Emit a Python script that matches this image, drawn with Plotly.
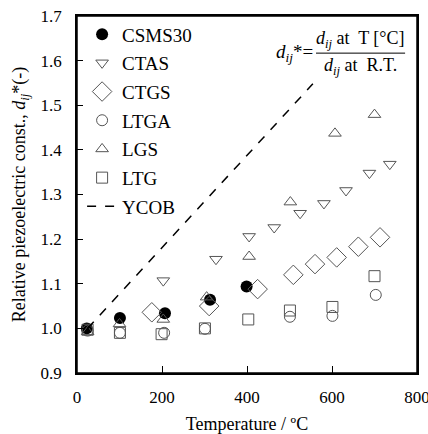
import plotly.graph_objects as go

# Data (temperature in °C, relative piezoelectric constant)
csms30_t = [23, 101, 207, 313, 399]
csms30_d = [1.000, 1.023, 1.034, 1.064, 1.094]

ctas_t = [203, 327, 405, 464, 525, 581, 633, 688, 736]
ctas_d = [1.107, 1.155, 1.206, 1.226, 1.258, 1.280, 1.309, 1.348, 1.368]

ctgs_t = [176, 311, 425, 509, 560, 611, 662, 713]
ctgs_d = [1.036, 1.050, 1.088, 1.120, 1.144, 1.159, 1.183, 1.204]

ltga_t = [25, 101, 205, 301, 501, 601, 703]
ltga_d = [0.995, 0.990, 0.990, 0.999, 1.026, 1.028, 1.075]

lgs_t = [25, 100, 203, 305, 405, 502, 607, 700]
lgs_d = [0.992, 1.010, 1.020, 1.070, 1.161, 1.283, 1.437, 1.479]

ltg_t = [25, 101, 199, 301, 403, 501, 601, 700]
ltg_d = [0.997, 0.990, 0.987, 1.000, 1.020, 1.040, 1.048, 1.117]

ycob_t = [25, 555]
ycob_d = [1.000, 1.548]

x_ticks = [0, 200, 400, 600, 800]
y_ticks = [0.9, 1.0, 1.1, 1.2, 1.3, 1.4, 1.5, 1.6, 1.7]

FONT = "Times New Roman, Liberation Serif, serif"
EDGE = "#555555"

fig = go.Figure()

def hollow(name, t, d, symbol, size):
    fig.add_trace(go.Scatter(
        x=t, y=d, mode="markers", name=name, legendgroup=name,
        marker=dict(symbol=symbol, size=size, color=EDGE,
                    line=dict(color=EDGE, width=1)),
    ))

fig.add_trace(go.Scatter(
    x=csms30_t, y=csms30_d, mode="markers", name="CSMS30", legendgroup="CSMS30",
    marker=dict(symbol="circle", size=12, color="black",
                line=dict(color="black", width=0)),
))
hollow("CTAS", ctas_t, ctas_d, "triangle-down-open", 11)
hollow("CTGS", ctgs_t, ctgs_d, "diamond-open", 15)
hollow("LTGA", ltga_t, ltga_d, "circle-open", 11)
hollow("LGS", lgs_t, lgs_d, "triangle-up-open", 11)
hollow("LTG", ltg_t, ltg_d, "square-open", 11)

fig.add_trace(go.Scatter(
    x=ycob_t, y=ycob_d, mode="lines", name="YCOB", legendgroup="YCOB",
    line=dict(color="black", width=1.5, dash="dash"),
))

fig.update_layout(
    width=428, height=434,
    margin=dict(l=77, r=11, t=16, b=61, autoexpand=False),
    paper_bgcolor="white", plot_bgcolor="white",
    font=dict(family=FONT, size=17, color="black"),
    showlegend=True,
    legend=dict(x=0.015, y=1.002, xanchor="left", yanchor="top",
                bgcolor="rgba(0,0,0,0)", font=dict(size=19, family=FONT),
                itemwidth=30, tracegroupgap=1, traceorder="grouped"),
)

fig.update_xaxes(
    range=[0, 800], tickvals=x_ticks, ticktext=[str(v) for v in x_ticks],
    showgrid=False, zeroline=False, showline=True, linecolor="black",
    linewidth=1.5, mirror=True, ticks="inside", ticklen=7, tickcolor="black",
    tickfont=dict(size=17, family=FONT), ticklabelstandoff=8, automargin=False,
    ticklabeloverflow="allow",
    title=dict(text="Temperature / ºC", font=dict(size=18, family=FONT), standoff=12),
)
fig.update_yaxes(
    range=[0.9, 1.7], tickvals=y_ticks, ticktext=[f"{v:.1f}" for v in y_ticks],
    showgrid=False, zeroline=False, showline=True, linecolor="black",
    linewidth=1.5, mirror=True, ticks="inside", ticklen=6, tickcolor="black",
    tickfont=dict(size=17, family=FONT), ticklabelstandoff=10, automargin=False,
    ticklabeloverflow="allow",
    title=dict(text="Relative piezoelectric const., <i>d<sub>ij</sub></i>*(-)",
               font=dict(size=18, family=FONT), standoff=10),
)

# Plot frame
fig.add_shape(type="rect", xref="paper", yref="paper", x0=0, x1=1, y0=0, y1=1,
              line=dict(color="black", width=1.5), fillcolor="rgba(0,0,0,0)",
              layer="above")

# Formula annotation
fig.add_annotation(xref="paper", yref="paper", x=0.70, y=0.896,
                   xanchor="right", yanchor="middle", showarrow=False,
                   text="<i>d<sub>ij</sub></i>*=", font=dict(size=19, family=FONT))
fig.add_annotation(xref="paper", yref="paper", x=0.835, y=0.935,
                   xanchor="center", yanchor="middle", showarrow=False,
                   text="<i>d<sub>ij</sub></i> at  T [°C]", font=dict(size=18, family=FONT))
fig.add_annotation(xref="paper", yref="paper", x=0.835, y=0.858,
                   xanchor="center", yanchor="middle", showarrow=False,
                   text="<i>d<sub>ij</sub></i> at  R.T.", font=dict(size=18, family=FONT))
fig.add_shape(type="line", xref="paper", yref="paper",
              x0=0.703, x1=0.965, y0=0.896, y1=0.896,
              line=dict(color="black", width=1))

fig.write_html("out.html", config={"displayModeBar": False},
               post_script="document.body.style.margin='0';document.body.style.overflow='hidden';")
